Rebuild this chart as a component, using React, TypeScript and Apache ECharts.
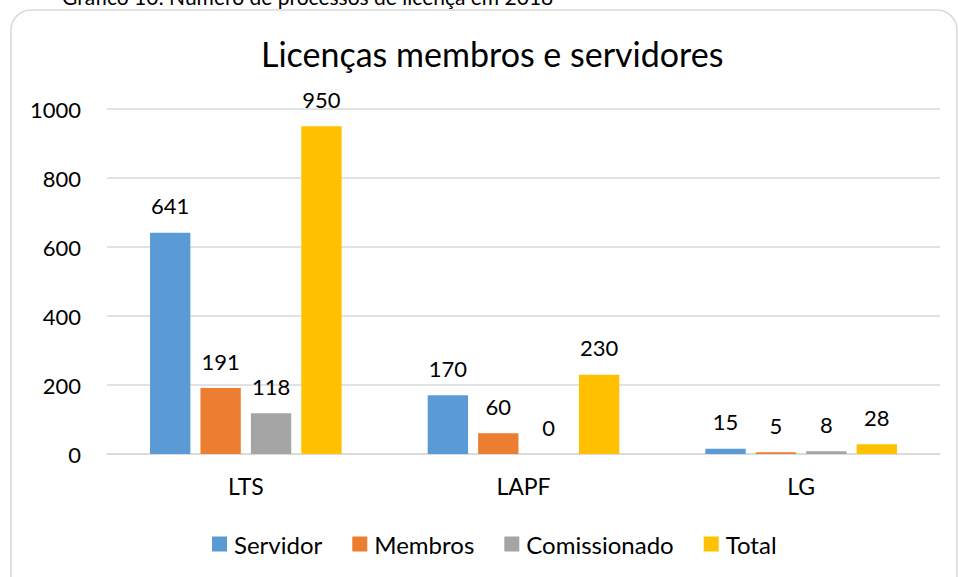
import React, { useEffect, useRef } from "react";
import * as echarts from "echarts";

const categories = ["LTS", "LAPF", "LG"];
const seriesNames = ["Servidor", "Membros", "Comissionado", "Total"];
const servidor = [641, 170, 15];
const membros = [191, 60, 5];
const comissionado = [118, 0, 8];
const total = [950, 230, 28];
const yTicks = [0, 200, 400, 600, 800, 1000];

const colors = ["#5b9bd5", "#ed7d31", "#a5a5a5", "#ffc000"];
const FONT = "Lato, 'Open Sans', sans-serif";

export default function App() {
  const ref = useRef<HTMLDivElement>(null);
  useEffect(() => {
    if (!ref.current) return;
    const chart = echarts.init(ref.current, undefined, { renderer: "svg" });
    const values = [servidor, membros, comissionado, total];
    chart.setOption({
      animation: false,
      backgroundColor: "#ffffff",
      textStyle: { fontFamily: FONT },
      title: {
        text: "Licenças membros e servidores",
        left: 256,
        top: 31,
        textStyle: { fontFamily: FONT, fontSize: 34, fontWeight: "normal", color: "#000" },
      },
      graphic: [
        {
          type: "rect",
          shape: { x: 11, y: 10, width: 946, height: 600, r: 20 },
          style: { fill: "none", stroke: "#d9d9d9", lineWidth: 1.5 },
          silent: true,
        },
        {
          type: "text",
          left: 62,
          top: -14,
          style: {
            text: "Gráfico 10: Número de processos de licença em 2018",
            font: "21px " + FONT,
            fill: "#000",
          },
        },
      ],
      legend: {
        data: seriesNames,
        top: 527,
        left: 207,
        icon: "rect",
        itemWidth: 15,
        itemHeight: 15,
        itemGap: 30,
        textStyle: { fontFamily: FONT, fontSize: 24, color: "#000", padding: [0, 0, 0, 2] },
      },
      grid: { left: 107, right: 18, top: 109, bottom: 123, containLabel: false },
      xAxis: {
        type: "category",
        data: categories,
        axisTick: { show: false },
        axisLine: { lineStyle: { color: "#d9d9d9", width: 1.5 } },
        axisLabel: { fontFamily: FONT, fontSize: 23, color: "#000", margin: 21, lineHeight: 22 },
      },
      yAxis: {
        type: "value",
        min: 0,
        max: 1000,
        interval: 200,
        axisLine: { show: false },
        axisTick: { show: false },
        splitLine: { lineStyle: { color: "#d9d9d9", width: 1.5 } },
        axisLabel: {
          fontFamily: FONT,
          fontSize: 22,
          color: "#000",
          margin: 26,
          formatter: (v: number) => (yTicks.includes(v) ? String(v) : ""),
        },
      },
      series: seriesNames.map((name, i) => ({
        name,
        type: "bar",
        data: values[i],
        barGap: "25%",
        barCategoryGap: "31%",
        itemStyle: { color: colors[i] },
        label: {
          show: true,
          position: "top",
          distance: 16,
          fontFamily: FONT,
          fontSize: 22,
          color: "#000",
        },
      })),
    });
    return () => chart.dispose();
  }, []);
  return (
    <div
      ref={ref}
      style={{ position: "fixed", left: 0, top: 0, width: 958, height: 577 }}
    />
  );
}
